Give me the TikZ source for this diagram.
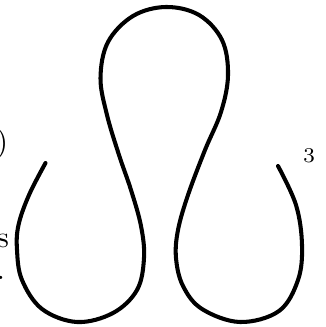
\documentclass[tikz,border=0pt]{standalone}
\begin{document}
\begin{tikzpicture}[x=0.3333pt,y=-0.3333pt,
  curve/.style={line width=1.35pt, line cap=round, line join=round},
  lbl/.style={inner sep=0pt, outer sep=0pt}]
\useasboundingbox (0,0) rectangle (325,327);
\draw[curve] plot[smooth, tension=0.6] coordinates {
  (45.5,163) (29,195) (18.5,225) (17,250) (22,280) (42,309) (77,322)
  (113,313) (137,290) (144,258) (141,226) (131,190) (119,155) (107,115)
  (100.5,78) (108,42) (133,16) (166,7) (199,15) (222,40) (228,75)
  (221,112) (205,150) (188,195) (178,230) (176,258) (183,286)
  (202,309) (240,322) (279,311) (298,280) (302,245) (296,205) (278,166)};
\node[lbl, anchor=base east] (paren) at (8,151) {)};
\node[lbl, anchor=base east] (s) at (9,247) {s};
\node[lbl, anchor=base east] (dot) at (5,279) {.};
\node[lbl, anchor=base west, font=\scriptsize] (three) at (303,162) {3};
\end{tikzpicture}
\end{document}
